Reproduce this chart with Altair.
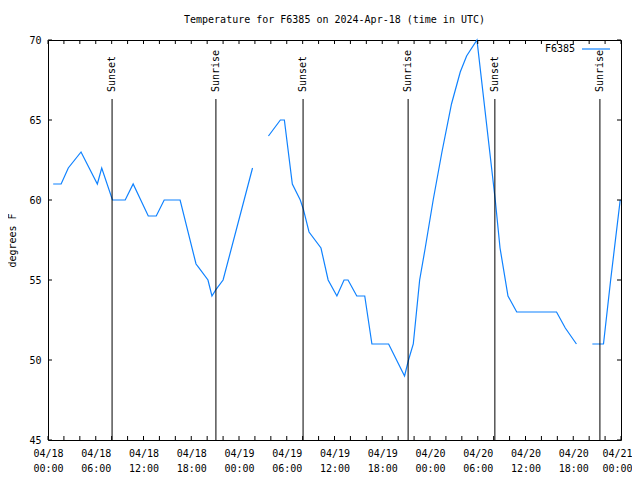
import altair as alt
import pandas as pd

START = pd.Timestamp("2024-04-18T00:00:00Z")

# Temperature series (hours after 2024-04-18 00:00 UTC, degrees F); gaps split segments
seg1_hours = [0.65, 1.65, 2.55, 4.15, 6.2, 6.75, 8.1, 9.7, 10.7, 12.6, 13.6, 14.6,
              16.6, 18.6, 18.9, 20.1, 20.6, 21.1, 22.0, 25.7]
seg1_temps = [61, 61, 62, 63, 61, 62, 60, 60, 61, 59, 59, 60,
              60, 56, 55.8, 55, 54, 54.4, 55, 62]

seg2_hours = [27.7, 29.2, 29.7, 30.7, 31.7, 32.1, 32.8, 34.3, 35.2, 36.3, 37.2, 37.7,
              38.8, 39.8, 40.7, 42.8, 44.8, 45.3, 45.9, 46.3, 46.7, 47.4, 48.4, 49.5,
              50.7, 51.8, 52.6, 53.9, 56.2, 56.8, 57.8, 58.9, 63.9, 65.0, 66.4]
seg2_temps = [64, 65, 65, 61, 60, 59.4, 58, 57, 55, 54, 55, 55,
              54, 54, 51, 51, 49, 50, 51, 53, 55, 57, 60, 63,
              66, 68, 69, 70, 60, 57, 54, 53, 53, 52, 51]

seg3_hours = [68.4, 69.8, 70.7, 71.9]
seg3_temps = [51, 51, 55, 60]

event_hours = [8.05, 21.1, 32.05, 45.25, 56.15, 69.35]
event_labels = ["Sunset", "Sunrise", "Sunset", "Sunrise", "Sunset", "Sunrise"]

series_name = ["F6385"]

x_label_hours = list(range(0, 73, 6))
x_tick_hours = list(range(0, 73, 2))
y_ticks = [45, 50, 55, 60, 65, 70]

TITLE = "Temperature for F6385 on 2024-Apr-18 (time in UTC)"
FONT = "DejaVu Sans Mono"
LINE_COLOR = "#0f82ff"
W, H = 573, 400
TICK = 4


def ms(h):
    return int((START + pd.Timedelta(hours=h)).timestamp() * 1000)


rows = []
for seg, (hs, vs) in enumerate([(seg1_hours, seg1_temps),
                                (seg2_hours, seg2_temps),
                                (seg3_hours, seg3_temps)]):
    for h, v in zip(hs, vs):
        rows.append({"t": ms(h), "temp": v, "seg": seg})
df = pd.DataFrame(rows)

events = pd.DataFrame({"t": [ms(h) for h in event_hours], "label": event_labels})
legend_df = pd.DataFrame({"name": series_name})
xticks_df = pd.DataFrame({"t": [ms(h) for h in x_tick_hours]})
yticks_df = pd.DataFrame({"v": y_ticks})

x_scale = alt.Scale(type="utc", domain=[ms(0), ms(72)], nice=False)
y_scale = alt.Scale(domain=[45, 70], nice=False, zero=False)

last_label = ms(x_label_hours[-1])
main_x_axis = alt.Axis(
    orient="bottom", values=[ms(h) for h in x_label_hours],
    labelExpr="[utcFormat(datum.value, '%m/%d'), utcFormat(datum.value, '%H:%M')]",
    ticks=False, tickSize=0, domain=False, grid=False, labelPadding=8,
    labelFont=FONT, labelFontSize=10, labelColor="black", labelLineHeight=15,
    labelFlush=False, labelOverlap=False, title=None,
    labelOffset={"condition": {"test": f"datum.value >= {last_label}", "value": -4},
                 "value": 0},
)
main_y_axis = alt.Axis(
    orient="left", values=y_ticks, ticks=False, tickSize=0,
    domain=False, grid=False, labelPadding=7, labelFont=FONT, labelFontSize=10,
    labelColor="black", title="degrees F", titleFont=FONT, titleFontSize=10,
    titleFontWeight="normal", titleColor="black", titleX=-36, titleY=H / 2,
    titleAngle=270, titleAlign="center", titleBaseline="middle",
)

line = alt.Chart(df).mark_line(color=LINE_COLOR, strokeWidth=1.2).encode(
    x=alt.X("t:T", scale=x_scale, axis=main_x_axis),
    y=alt.Y("temp:Q", scale=y_scale, axis=main_y_axis),
    detail="seg:N",
)

# inward ticks (gnuplot style) on all four sides
xt = alt.X("t:T", scale=x_scale, axis=None)
top_ticks = alt.Chart(xticks_df).mark_rule(color="black", strokeWidth=1).encode(
    x=xt, y=alt.value(0), y2=alt.value(TICK))
bottom_ticks = alt.Chart(xticks_df).mark_rule(color="black", strokeWidth=1).encode(
    x=xt, y=alt.value(H - TICK), y2=alt.value(H))
yt = alt.Y("v:Q", scale=y_scale, axis=None)
left_ticks = alt.Chart(yticks_df).mark_rule(color="black", strokeWidth=1).encode(
    y=yt, x=alt.value(0), x2=alt.value(TICK))
right_ticks = alt.Chart(yticks_df).mark_rule(color="black", strokeWidth=1).encode(
    y=yt, x=alt.value(W - TICK), x2=alt.value(W))

event_rules = alt.Chart(events).mark_rule(color="black", strokeWidth=1).encode(
    x=alt.X("t:T", scale=x_scale, axis=None),
    y=alt.value(59), y2=alt.value(H),
)
event_text = alt.Chart(events).mark_text(
    angle=270, align="left", baseline="middle", font=FONT, fontSize=10, color="black"
).encode(
    x=alt.X("t:T", scale=x_scale, axis=None),
    y=alt.value(52),
    text="label:N",
)

legend_text = alt.Chart(legend_df).mark_text(
    align="right", baseline="middle", font=FONT, fontSize=10, color="black"
).encode(x=alt.value(527), y=alt.value(9), text="name:N")
legend_line = alt.Chart(legend_df).mark_rule(color=LINE_COLOR, strokeWidth=1.2).encode(
    x=alt.value(534), x2=alt.value(562), y=alt.value(9)
)

chart = alt.layer(
    line, top_ticks, bottom_ticks, left_ticks, right_ticks,
    event_rules, event_text, legend_text, legend_line
).resolve_axis(
    x="independent", y="independent"
).properties(
    width=W, height=H,
    title=alt.TitleParams(text=TITLE, font=FONT, fontSize=10, fontWeight="normal",
                          anchor="middle", color="black", offset=10),
    autosize=alt.AutoSizeParams(type="none"),
    padding={"left": 40, "top": 32, "right": 11, "bottom": 32},
).configure_view(stroke="black", strokeWidth=1)

chart.save("out.html", embed_options={"renderer": "svg", "actions": False})
